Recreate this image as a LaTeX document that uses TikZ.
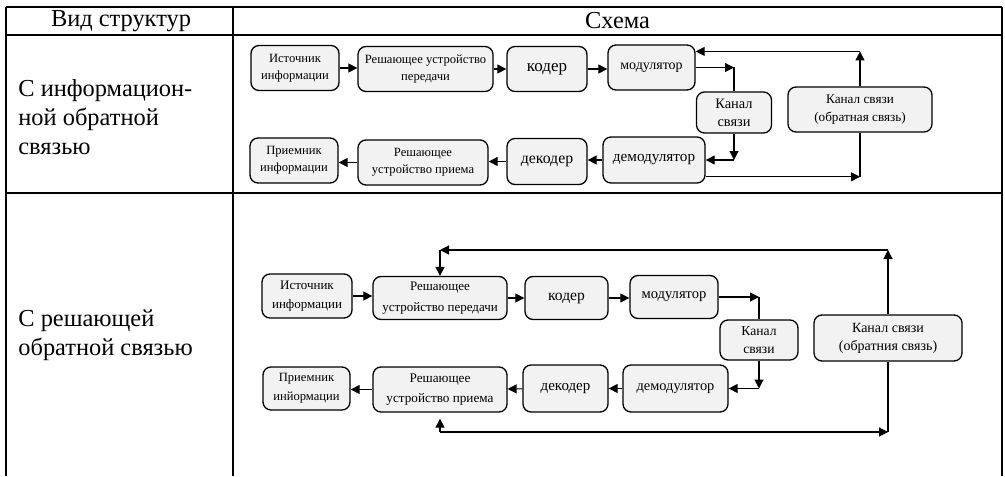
\documentclass[tikz,border=0pt]{standalone}
\usepackage{fontspec}
\setmainfont{Liberation Serif}
\definecolor{boxgray}{RGB}{242,242,242}
\usetikzlibrary{arrows.meta,positioning}

\begin{document}
\begin{tikzpicture}[x=0.5pt, y=-0.5pt,
      arr/.style={-{Triangle[length=4.5pt,width=4.5pt]}, line width=0.55pt},
      lin/.style={line width=0.55pt},
      tbl/.style={line width=1.15pt},
      blk/.style={draw, line width=0.65pt, rounded corners=4pt, fill=boxgray,
                  align=center, inner sep=1pt,
                  font=\fontsize{6.3}{8.3}\selectfont},
      blkb/.style={blk, font=\fontsize{6.5}{9.5}\selectfont},
      cell/.style={align=left, inner sep=0pt, anchor=west,
                   font=\fontsize{12.2}{14.5}\selectfont},
      hdr/.style={inner sep=0pt, font=\fontsize{12.2}{14.5}\selectfont}
    ]
    \useasboundingbox (0,0) rectangle (1005,476);
    % table frame
    \draw[tbl] (6,7) -- (1002,7);
    \draw[tbl] (6,35) -- (1002,35);
    \draw[tbl] (6,193) -- (1002,193);
    \draw[tbl] (6,7) -- (6,476);
    \draw[tbl] (233,7) -- (233,476);
    \draw[tbl] (1002,7) -- (1002,476);
    \node[hdr] (hkind) at (121,21) {Вид структур};
    \node[hdr] (hscheme) at (617.5,21) {Схема};
    \node[cell] (kind1) at (18,117) {С информацион-\\ной обратной\\связью};
    \node[cell] (kind2) at (18,335.5) {С решающей\\обратной связью};

    % information feedback
    \node[blk, minimum width=44pt, minimum height=22.5pt] (src1) at (295,68) {Источник\\информации};
    \node[blk, minimum width=67.5pt, minimum height=22.5pt] (rt1) at (425.5,69) {Решающее устройство\\передачи};
    \node[blk, minimum width=40pt, minimum height=22.5pt, font=\fontsize{8.5}{10}\selectfont] (cod1) at (547,69) {кодер};
    \node[blk, minimum width=43.5pt, minimum height=22.5pt, font=\fontsize{7}{8}\selectfont] (mod1) at (651.5,67.5) {модулятор};
    \node[blk, minimum width=37.5pt, minimum height=20.5pt, font=\fontsize{7.2}{9}\selectfont] (ch1) at (734,112.5) {Канал\\связи};
    \node[blk, minimum width=72pt, minimum height=22.5pt, font=\fontsize{6.6}{9}\selectfont] (fb1) at (860,109.5) {Канал связи\\(обратная связь)};
    \node[blk, minimum width=51pt, minimum height=23pt, font=\fontsize{7.6}{9}\selectfont] (dem1) at (654,160) {демодулятор};
    \node[blk, minimum width=40pt, minimum height=23pt, font=\fontsize{7.9}{10}\selectfont] (dec1) at (547,161.5) {декодер};
    \node[blk, minimum width=65pt, minimum height=22.5pt] (rr1) at (423,162.5) {Решающее\\устройство приема};
    \node[blk, minimum width=44pt, minimum height=22.5pt] (dst1) at (294,160.5) {Приемник\\информации};
    \coordinate (ctx1) at (ch1.north |- mod1);
    \coordinate (crx1) at (ch1.south |- dem1);
    \coordinate (cfb1) at (fb1.south |- dem1.-18);
    \coordinate (cup1) at (fb1.north |- mod1.20);
    \draw[arr] (src1.east) -- (src1.east -| rt1.west);
    \draw[arr] (rt1) -- (cod1);
    \draw[arr] (cod1.east) -- (cod1.east -| mod1.west);
    \draw[arr] (mod1) -- (ctx1);
    \draw[lin] (ch1.north) -- (ctx1);
    \draw[arr] (ch1.south) -- (crx1);
    \draw[arr] (crx1) -- (dem1.east);
    \draw[arr] (dem1.west) -- (dem1.west -| dec1.east);
    \draw[arr] (dec1.west) -- (dec1.west -| rr1.east);
    \draw[arr] (rr1.west) -- (rr1.west -| dst1.east);
    \draw[arr] (dem1.-18) -- (cfb1);
    \draw[lin] (fb1.south) -- (cfb1);
    \draw[arr] (fb1.north) -- (cup1);
    \draw[arr] (cup1) -- (mod1.20);

    % decision feedback
    \node[blkb, minimum width=45pt, minimum height=22pt] (src2) at (307,296) {Источник\\информации};
    \node[blkb, minimum width=67pt, minimum height=21.5pt, font=\fontsize{6.5}{10.5}\selectfont] (rt2) at (440,298) {Решающее\\устройство передачи};
    \node[blkb, minimum width=41.5pt, minimum height=21.5pt, font=\fontsize{7.8}{10}\selectfont] (cod2) at (566.5,298) {кодер};
    \node[blkb, minimum width=44pt, minimum height=21.5pt, font=\fontsize{7.3}{9}\selectfont] (mod2) at (674,297) {модулятор};
    \node[blkb, minimum width=39pt, minimum height=20pt, font=\fontsize{6.8}{9}\selectfont] (ch2) at (759,340) {Канал\\связи};
    \node[blkb, minimum width=74pt, minimum height=23pt, font=\fontsize{7}{9}\selectfont] (fb2) at (888,338) {Канал связи\\(обратния связь)};
    \node[blkb, minimum width=52.5pt, minimum height=23.5pt, font=\fontsize{7.2}{9}\selectfont] (dem2) at (675.5,388.5) {демодулятор};
    \node[blkb, minimum width=42.5pt, minimum height=23.5pt, font=\fontsize{7.5}{10}\selectfont] (dec2) at (565.5,388.5) {декодер};
    \node[blkb, minimum width=67pt, minimum height=22.5pt, font=\fontsize{6.6}{10}\selectfont] (rr2) at (440,389.5) {Решающее\\устройство приема};
    \node[blkb, minimum width=43.5pt, minimum height=21.5pt, font=\fontsize{6.3}{9.5}\selectfont] (dst2) at (306.5,388.5) {Приемник\\инйормации};
    \coordinate (ytop2) at (0,250);
    \coordinate (ybot2) at (0,432);
    \coordinate (ctx2) at (ch2.north |- mod2);
    \coordinate (crx2) at (ch2.south |- dem2);
    \coordinate (cup2) at (fb2.north |- ytop2);
    \coordinate (cdn2) at (rt2.north |- ytop2);
    \coordinate (cbl2) at (rr2.south |- ybot2);
    \coordinate (cbr2) at (fb2.south |- ybot2);
    \draw[arr] (src2.east) -- (src2.east -| rt2.west);
    \draw[arr] (rt2) -- (cod2);
    \draw[arr] (cod2.east) -- (cod2.east -| mod2.west);
    \draw[arr] (mod2) -- (ctx2);
    \draw[lin] (ch2.north) -- (ctx2);
    \draw[arr] (ch2.south) -- (crx2);
    \draw[arr] (crx2) -- (dem2.east);
    \draw[arr] (dem2) -- (dec2);
    \draw[arr] (dec2) -- (rr2);
    \draw[arr] (rr2.west) -- (rr2.west -| dst2.east);
    \draw[arr] (fb2.north) -- (cup2);
    \draw[arr] (cup2) -- (cdn2);
    \draw[arr] (cdn2) -- (rt2.north);
    \draw[arr, shorten >=3pt] (cbl2) -- (rr2.south);
    \draw[arr] (cbl2) -- (cbr2);
    \draw[lin] (fb2.south) -- (cbr2);
  \end{tikzpicture}
\end{document}
